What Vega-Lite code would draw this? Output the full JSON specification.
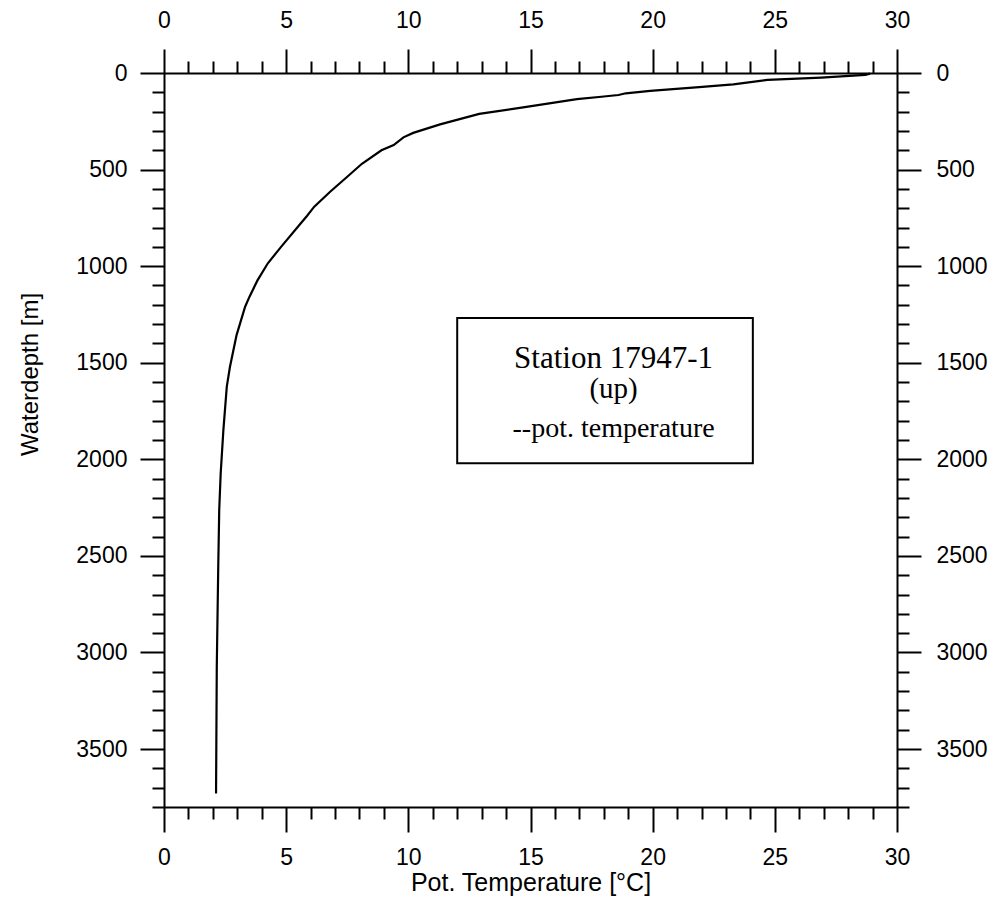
{
  "$schema": "https://vega.github.io/schema/vega-lite/v6.json",
  "autosize": {"type": "none"},
  "width": 733,
  "height": 734,
  "padding": {"left": 164, "top": 73, "right": 104, "bottom": 96},
  "background": "white",
  "config": {
    "view": {"stroke": null},
    "axis": {
      "labelFont": "Liberation Sans",
      "labelFontSize": 23,
      "labelColor": "black",
      "labelFlush": false,
      "titleFont": "Liberation Sans",
      "titleFontSize": 24,
      "titleFontWeight": "normal",
      "titleColor": "black",
      "domainColor": "black",
      "domainWidth": 2,
      "tickColor": "black",
      "tickWidth": 2,
      "grid": false
    }
  },
  "datasets": {
    "profile": [
      {"depth": 3, "temp": 28.9},
      {"depth": 10, "temp": 28.7},
      {"depth": 24, "temp": 26.9},
      {"depth": 36, "temp": 24.7},
      {"depth": 59, "temp": 23.3},
      {"depth": 73, "temp": 21.9},
      {"depth": 93, "temp": 19.9},
      {"depth": 105, "temp": 18.9},
      {"depth": 114, "temp": 18.6},
      {"depth": 123, "temp": 17.9},
      {"depth": 135, "temp": 16.9},
      {"depth": 178, "temp": 14.7},
      {"depth": 212, "temp": 12.9},
      {"depth": 266, "temp": 11.3},
      {"depth": 310, "temp": 10.2},
      {"depth": 333, "temp": 9.8},
      {"depth": 373, "temp": 9.4},
      {"depth": 400, "temp": 8.9},
      {"depth": 470, "temp": 8.1},
      {"depth": 537, "temp": 7.5},
      {"depth": 615, "temp": 6.8},
      {"depth": 692, "temp": 6.15},
      {"depth": 740, "temp": 5.85},
      {"depth": 778, "temp": 5.6},
      {"depth": 899, "temp": 4.8},
      {"depth": 985, "temp": 4.25},
      {"depth": 1075, "temp": 3.82},
      {"depth": 1158, "temp": 3.5},
      {"depth": 1210, "temp": 3.32},
      {"depth": 1357, "temp": 2.97},
      {"depth": 1521, "temp": 2.7},
      {"depth": 1624, "temp": 2.57},
      {"depth": 1849, "temp": 2.43},
      {"depth": 2073, "temp": 2.32},
      {"depth": 2263, "temp": 2.26},
      {"depth": 2557, "temp": 2.22},
      {"depth": 3074, "temp": 2.16},
      {"depth": 3730, "temp": 2.13}
    ],
    "box": [
      {"t1": 12.0, "t2": 24.1, "d1": 1269, "d2": 2020}
    ],
    "notes": [
      {"t": 18.4, "d": 1528, "text": "Station 17947-1", "size": 31},
      {"t": 18.4, "d": 1683, "text": "(up)", "size": 29},
      {"t": 18.4, "d": 1885, "text": "--pot. temperature", "size": 28}
    ]
  },
  "resolve": {"axis": {"x": "independent", "y": "independent"}},
  "layer": [
    {
      "data": {"name": "profile"},
      "mark": {"type": "line", "color": "black", "strokeWidth": 2.2},
      "encoding": {
        "x": {
          "field": "temp", "type": "quantitative",
          "scale": {"domain": [0, 30], "nice": false, "zero": false},
          "axis": {
            "orient": "bottom",
            "title": "Pot. Temperature [°C]",
            "titleFontSize": 25,
            "values": [0,1,2,3,4,5,6,7,8,9,10,11,12,13,14,15,16,17,18,19,20,21,22,23,24,25,26,27,28,29,30],
            "labelExpr": "datum.value % 5 === 0 ? '' + datum.value : ''",
            "tickSize": {"condition": {"test": "datum.value % 5 === 0", "value": 25}, "value": 12},
            "labelPadding": 14,
            "labelBaseline": "top",
            "titleY": 83,
            "titleBaseline": "alphabetic"
          }
        },
        "y": {
          "field": "depth", "type": "quantitative",
          "scale": {"domain": [0, 3800], "nice": false, "zero": false, "reverse": true},
          "axis": {
            "orient": "left",
            "title": "Waterdepth [m]",
            "values": [0,100,200,300,400,500,600,700,800,900,1000,1100,1200,1300,1400,1500,1600,1700,1800,1900,2000,2100,2200,2300,2400,2500,2600,2700,2800,2900,3000,3100,3200,3300,3400,3500,3600,3700,3800],
            "labelExpr": "datum.value % 500 === 0 ? '' + datum.value : ''",
            "tickSize": {"condition": {"test": "datum.value % 500 === 0", "value": 24}, "value": 12},
            "labelPadding": 13,
            "titleAnchor": "middle",
            "titleX": -127,
            "titleY": 301,
            "titleBaseline": "alphabetic"
          }
        },
        "order": {"field": "depth", "type": "quantitative"}
      }
    },
    {
      "data": {"name": "box"},
      "mark": {"type": "rect", "fill": null, "stroke": "black", "strokeWidth": 2},
      "encoding": {
        "x": {
          "field": "t1", "type": "quantitative",
          "axis": {
            "orient": "top",
            "title": null,
            "values": [0,1,2,3,4,5,6,7,8,9,10,11,12,13,14,15,16,17,18,19,20,21,22,23,24,25,26,27,28,29,30],
            "labelExpr": "datum.value % 5 === 0 ? '' + datum.value : ''",
            "tickSize": {"condition": {"test": "datum.value % 5 === 0", "value": 24}, "value": 12},
            "labelPadding": 22,
            "labelBaseline": "alphabetic"
          }
        },
        "x2": {"field": "t2"},
        "y": {
          "field": "d1", "type": "quantitative",
          "axis": {
            "orient": "right",
            "title": null,
            "values": [0,100,200,300,400,500,600,700,800,900,1000,1100,1200,1300,1400,1500,1600,1700,1800,1900,2000,2100,2200,2300,2400,2500,2600,2700,2800,2900,3000,3100,3200,3300,3400,3500,3600,3700,3800],
            "labelExpr": "datum.value % 500 === 0 ? '' + datum.value : ''",
            "tickSize": {"condition": {"test": "datum.value % 500 === 0", "value": 24}, "value": 12},
            "labelPadding": 15
          }
        },
        "y2": {"field": "d2"}
      }
    },
    {
      "data": {"name": "notes"},
      "mark": {"type": "text", "font": "Liberation Serif", "color": "black", "align": "center", "baseline": "alphabetic"},
      "encoding": {
        "x": {"field": "t", "type": "quantitative", "axis": null},
        "y": {"field": "d", "type": "quantitative", "axis": null},
        "text": {"field": "text", "type": "nominal"},
        "size": {"field": "size", "type": "quantitative", "scale": null, "legend": null}
      }
    }
  ]
}
